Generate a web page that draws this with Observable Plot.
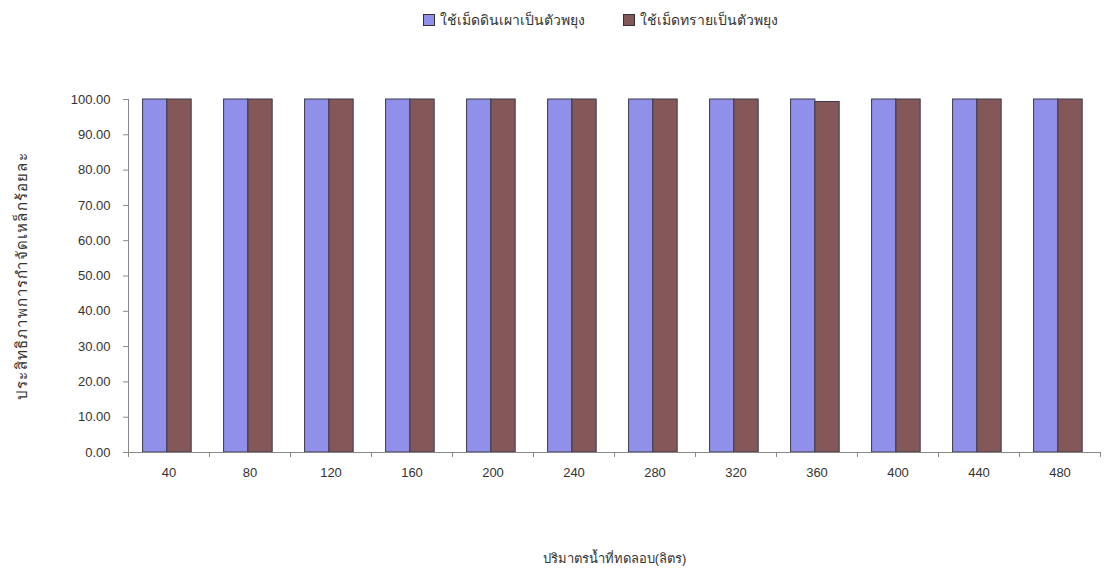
<!DOCTYPE html>
<html><head><meta charset="utf-8">
<script src="https://cdn.jsdelivr.net/npm/d3@7"></script>
<script src="https://cdn.jsdelivr.net/npm/@observablehq/plot@0.6"></script>
<style>
body{margin:0;background:#fff;font-family:"Liberation Sans",Arial,"Noto Sans",sans-serif;}
#wrap{position:relative;width:1105px;height:578px;}
#legend{position:absolute;top:9px;left:423px;white-space:nowrap;font-size:14px;color:#333;}
#legend span.sw{display:inline-block;width:10px;height:10px;border:1px solid #333;vertical-align:-1px;margin-right:5px;}
#legend span.item{margin-right:38px;}
</style></head>
<body><div id="wrap"><div id="legend"></div></div>
<script>
const volumes = [40, 80, 120, 160, 200, 240, 280, 320, 360, 400, 440, 480];
const clayPellet = [100, 100, 100, 100, 100, 100, 100, 100, 100, 100, 100, 100];
const sandPellet = [100, 100, 100, 100, 100, 100, 100, 100, 99.3, 100, 100, 100];
const seriesNames = ["ใช้เม็ดดินเผาเป็นตัวพยุง", "ใช้เม็ดทรายเป็นตัวพยุง"];
const seriesColors = ["#9090ea", "#845858"];
const yTicks = [0, 10, 20, 30, 40, 50, 60, 70, 80, 90, 100];
const xTitle = "ปริมาตรน้ำที่ทดลอบ(ลิตร)";
const yTitle = "ประสิทธิภาพการกำจัดเหล็กร้อยละ";

const rows = [];
volumes.forEach((v, i) => {
  rows.push({i, v, s: seriesNames[0], val: clayPellet[i], x1: i + 0.18, x2: i + 0.48});
  rows.push({i, v, s: seriesNames[1], val: sandPellet[i], x1: i + 0.48, x2: i + 0.78});
});
const centers = volumes.map((v, i) => i + 0.5);
const bounds = d3.range(volumes.length + 1);

const chart = Plot.plot({
  width: 1105, height: 578,
  marginLeft: 128, marginRight: 5, marginTop: 99, marginBottom: 126,
  style: {fontFamily: '"Liberation Sans", Arial, "Noto Sans", sans-serif', fontSize: "13px", color: "#333"},
  x: {type: "linear", domain: [0, volumes.length]},
  y: {domain: [0, 100]},
  color: {domain: seriesNames, range: seriesColors},
  marks: [
    Plot.rectY(rows, {x1: "x1", x2: "x2", y: "val", fill: "s", stroke: "#3a3a4a", strokeWidth: 1}),
    Plot.ruleX([0], {stroke: "#888"}),
    Plot.ruleY([0], {stroke: "#888"}),
    Plot.axisY({ticks: yTicks, tickFormat: d3.format(".2f"), tickSize: 5, tickPadding: 13, stroke: "#888", label: yTitle, labelArrow: "none", labelAnchor: "center", labelOffset: 112, fontSize: 13}),
    Plot.axisX({ticks: bounds, tickFormat: () => "", tickSize: 5, stroke: "#888", label: null}),
    Plot.axisX({ticks: centers, tickFormat: (d) => volumes[Math.round(d - 0.5)], tickSize: 0, tickPadding: 15, label: xTitle, labelArrow: "none", labelAnchor: "center", labelOffset: 110, fontSize: 13})
  ]
});
document.getElementById("wrap").appendChild(chart);
const yl = chart.querySelector('[aria-label="y-axis label"]');
if (yl) { yl.setAttribute("font-size", 15); yl.style.letterSpacing = "1.2px"; }
const lg = document.getElementById("legend");
lg.innerHTML = seriesNames.map((n, k) => `<span class="item"><span class="sw" style="background:${seriesColors[k]}"></span>${n}</span>`).join("");
</script></body></html>
